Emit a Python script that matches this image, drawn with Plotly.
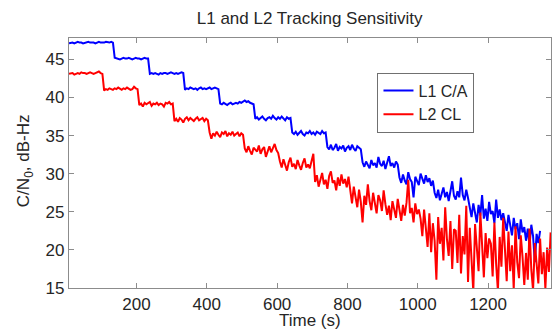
import plotly.graph_objects as go

# Sampling of the recorded traces (seconds)
t_start = 8
t_step = 5

# L1 C/A carrier-to-noise estimates (dB-Hz), one value every 5 s from t = 8 s
l1_ca = [
    47.1, 47.2, 47.2, 47.1, 47.2, 47.3, 47.2, 47.2, 47.1, 47.2, 47.2, 47.3, 47.2, 47.2, 47.2, 47.1, 47.2, 47.3, 47.2, 47.2, 47.2, 47.3, 47.2, 47.2, 47.3, 47.2,
    45.2, 45.1, 45.1, 45.0, 45.1, 45.2, 45.1, 45.1, 45.2, 45.1, 45.0, 45.1, 45.2, 45.1, 45.1, 45.0, 45.1, 45.2, 45.1, 45.1,
    43.1, 43.2, 43.1, 43.2, 43.1, 43.0, 43.2, 43.1, 43.2, 43.2, 43.1, 43.2, 43.3, 43.2, 43.1, 43.2, 43.1, 43.2, 43.3, 43.2,
    41.0, 41.2, 41.1, 41.3, 41.2, 41.1, 41.2, 41.0, 41.2, 41.3, 41.1, 41.2, 41.1, 41.2, 41.3, 41.1, 41.2, 41.3, 41.2, 41.1,
    39.2, 39.1, 39.3, 39.2, 39.0, 39.2, 39.3, 39.1, 39.2, 39.3, 39.2, 39.4, 39.3, 39.5, 39.6, 39.4, 39.5, 39.3, 39.2, 39.1,
    37.2, 37.4, 37.1, 37.3, 37.5, 37.2, 37.0, 37.3, 37.4, 37.2, 37.6, 37.3, 37.1, 37.4, 37.2, 37.5, 37.3, 37.0, 37.4, 37.2, 37.3,
    35.4, 35.2, 35.5, 35.1, 35.3, 35.6, 35.2, 35.0, 35.4, 35.3, 35.6, 35.2, 35.4, 35.1, 35.5, 35.3, 35.2, 35.6, 35.3, 35.4,
    33.5, 33.2, 33.8, 33.1, 33.4, 33.9, 33.0, 33.5, 33.3, 33.7, 32.9, 33.4, 33.6, 33.1, 33.8, 33.3, 33.0, 33.6, 33.4, 33.2,
    31.5, 30.9, 31.6, 31.2, 30.7, 31.8, 31.1, 31.4, 30.8, 32.2, 31.3, 31.0, 31.7, 30.6, 31.5, 32.3, 31.0, 31.4, 30.8, 31.6, 31.2,
    29.5, 28.8, 29.9, 29.1, 28.6, 30.2, 29.3, 28.9, 26.9, 29.6, 29.0, 28.5, 30.0, 29.2, 28.7, 29.8, 28.9, 29.4, 28.4, 29.1,
    27.5, 26.8, 27.9, 26.5, 27.3, 28.2, 26.9, 27.6, 26.4, 27.8, 29.0, 27.1, 26.6, 27.7, 26.9, 29.5, 27.2, 26.5, 27.9, 26.8,
    25.6, 24.3, 26.1, 24.8, 23.6, 25.9, 24.5, 27.2, 24.1, 25.4, 23.8, 26.3, 24.7, 25.1, 23.5, 26.6, 24.2, 25.3, 23.9, 24.8,
    23.8, 22.5, 24.6, 23.1, 21.9, 24.2, 22.7, 23.5, 21.4, 24.0, 22.3, 23.0, 21.2, 22.8, 20.6, 23.3, 21.8, 18.4, 22.1, 20.9, 22.5,
]

# L2 CL carrier-to-noise estimates (dB-Hz), one value every 5 s from t = 8 s
l2_cl = [
    43.1, 43.2, 43.2, 43.0, 43.1, 43.2, 43.1, 43.3, 43.2, 43.2, 43.1, 43.2, 43.3, 43.2, 43.1, 43.2, 43.3, 43.4, 43.2, 43.1,
    40.9, 41.1, 41.0, 41.2, 41.1, 41.0, 41.2, 41.1, 41.3, 41.1, 41.0, 41.2, 41.1, 41.3, 41.2, 41.0, 41.1, 41.4, 41.2, 41.1,
    39.0, 39.2, 38.8, 39.3, 39.1, 39.2, 39.4, 38.9, 39.2, 39.1, 39.3, 39.0, 39.2, 39.1, 38.8, 39.3, 39.2, 39.4, 39.1, 39.2,
    36.9, 37.2, 36.8, 37.3, 37.1, 36.7, 37.2, 37.4, 37.0, 37.3, 37.1, 36.9, 37.2, 37.4, 37.0, 37.1, 37.3, 36.9, 37.2, 37.0,
    35.4, 34.6, 35.3, 35.0, 35.5, 35.1, 34.8, 35.4, 35.2, 35.6, 34.9, 35.3, 35.1, 35.5, 35.0, 35.2, 35.4, 34.9, 35.3, 35.1,
    33.3, 32.8, 33.6, 33.0, 32.5, 33.4, 33.1, 32.9, 33.7, 32.6, 33.2, 33.5, 32.2, 33.0, 33.6, 32.8, 33.3, 33.9, 33.1, 32.7,
    31.6, 30.8, 31.9, 31.2, 30.4, 31.5, 32.1, 30.9, 31.3, 30.6, 31.8, 31.1, 30.5, 31.4, 32.0, 30.8, 31.2, 30.7, 31.5, 32.6,
    28.9, 29.8, 28.3, 29.4, 30.1, 28.6, 29.2, 28.0, 29.7, 30.3, 28.8, 29.1, 27.8, 29.5, 28.4, 29.9, 28.7, 29.3, 28.2, 29.6,
    27.4, 26.1, 28.3, 26.8, 25.6, 27.9, 26.3, 23.6, 27.1, 25.9, 28.6, 26.4, 25.2, 27.5, 26.0, 24.8, 27.2, 26.5, 25.1, 27.8,
    26.0, 24.6, 25.8, 23.9, 26.4, 25.1, 24.2, 26.7, 25.0, 23.8, 25.9, 24.5, 26.2, 29.2, 24.8, 25.5, 23.6, 26.1, 24.7, 25.3,
    24.1, 21.8, 25.3, 22.6, 20.4, 24.8, 19.7, 23.5, 21.2, 16.1, 24.3, 20.8, 22.9, 18.6, 25.6, 21.4, 19.2, 23.8, 17.5, 22.7,
    22.5, 18.3, 24.6, 16.9, 21.8, 19.4, 25.8, 15.8, 22.9, 18.7, 14.5, 23.4, 20.1, 17.2, 24.9, 19.6, 16.4, 22.2, 18.9, 21.5,
    20.8, 16.5, 23.6, 18.1, 14.6, 21.7, 17.8, 24.2, 19.3, 15.9, 22.4, 17.2, 20.6, 14.8, 23.1, 18.4, 16.3, 21.9, 19.1, 15.4,
    19.6, 16.1, 22.8, 17.4, 14.7, 20.9, 18.2, 15.6, 21.5, 16.8, 19.7, 14.9, 20.3, 17.1, 22.3,
]

x_ticks = [200, 400, 600, 800, 1000, 1200]
y_ticks = [15, 20, 25, 30, 35, 40, 45]
x_range = [8, 1379]
y_range = [15, 47.8]

series_names = ["L1 C/A", "L2 CL"]
series_colors = ["#0000FF", "#FF0000"]

FONT = "Liberation Sans, Arial, Helvetica, sans-serif"
TXT = "#262626"

fig = go.Figure()
for name, vals, col in zip(series_names, [l1_ca, l2_cl], series_colors):
    fig.add_trace(go.Scatter(
        x0=t_start, dx=t_step, y=vals, mode="lines", name=name,
        line=dict(color=col, width=2),
    ))

axis_common = dict(
    showline=True, linecolor="#8c8c8c", linewidth=1.2, mirror="ticks",
    ticks="inside", ticklen=5, tickcolor="#8c8c8c", tickwidth=1,
    showgrid=False, zeroline=False, automargin=False,
    tickfont=dict(family=FONT, size=17, color=TXT),
)

fig.update_layout(
    width=553, height=330,
    margin=dict(l=69, r=2, t=38, b=42),
    paper_bgcolor="white", plot_bgcolor="white",
    font=dict(family=FONT, size=17, color=TXT),
    title=dict(text="L1 and L2 Tracking Sensitivity", x=0.56, xanchor="center",
               y=0.945, yanchor="middle", font=dict(size=17, color=TXT)),
    xaxis=dict(range=x_range, tickvals=x_ticks, **axis_common),
    yaxis=dict(range=y_range, tickvals=y_ticks, **axis_common),
    legend=dict(x=0.64, y=0.862, xanchor="left", yanchor="top",
                bgcolor="white", bordercolor="#707070", borderwidth=1,
                font=dict(family=FONT, size=16, color=TXT),
                tracegroupgap=0),
    showlegend=True,
    annotations=[
        dict(text="Time (s)", xref="paper", yref="paper", x=0.5, y=-0.128,
             xanchor="center", yanchor="middle", showarrow=False,
             font=dict(family=FONT, size=17, color=TXT)),
        dict(text="C/N<sub>0</sub>, dB-Hz", xref="paper", yref="paper",
             x=-0.092, y=0.51, xanchor="center", yanchor="middle", textangle=-90,
             showarrow=False, font=dict(family=FONT, size=17, color=TXT)),
    ],
)

fig.write_html("out.html", config={"displayModeBar": False},
               post_script="document.body.style.margin='0';document.body.style.overflow='hidden';")
